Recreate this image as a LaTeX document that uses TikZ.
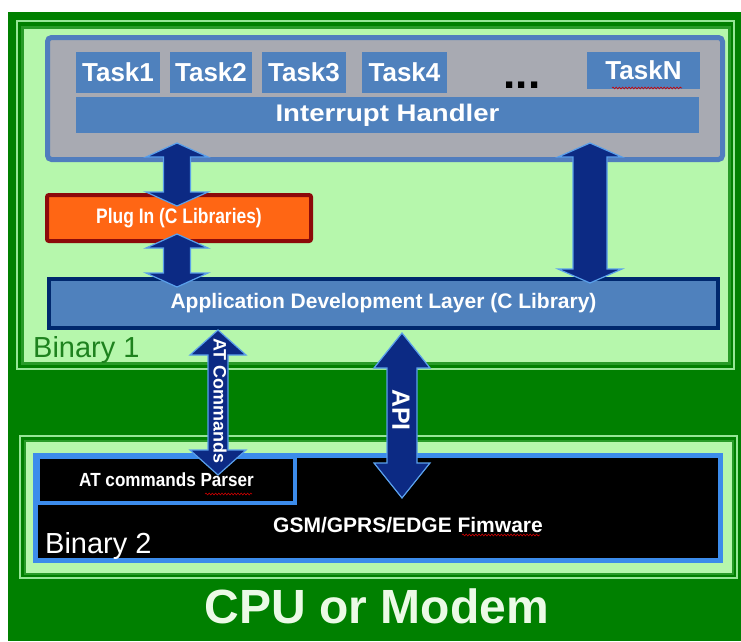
\documentclass[tikz,border=0pt]{standalone}
\usepackage{fontspec}
\setmainfont{Liberation Sans}
\usetikzlibrary{calc,decorations.pathmorphing}
\definecolor{dkgreen}{RGB}{0,128,0}
\definecolor{midgreen}{RGB}{40,155,40}
\definecolor{palegreen}{RGB}{150,230,150}
\definecolor{ltgreen}{RGB}{182,247,172}
\definecolor{graybox}{RGB}{168,170,178}
\definecolor{grayedge}{RGB}{80,125,190}
\definecolor{taskblue}{RGB}{79,129,189}
\definecolor{adlnavy}{RGB}{0,40,110}
\definecolor{plugorange}{RGB}{255,102,20}
\definecolor{plugred}{RGB}{140,10,10}
\definecolor{arrnavy}{RGB}{12,42,132}
\definecolor{arredge}{RGB}{90,160,235}
\definecolor{fwblue}{RGB}{60,140,235}
\definecolor{cputext}{RGB}{235,250,230}
\definecolor{bintext}{RGB}{30,130,30}
\newcommand\fsz[1]{\fontsize{#1}{#1}\selectfont}
\newcommand\blockarrow[5]{%
  \draw[barrow] (#1) -- ($(#1)+(#4,#5)$) -- ($(#1)+(#3,#5)$) -- ($(#2)+(#3,-#5)$)
    -- ($(#2)+(#4,-#5)$) -- (#2) -- ($(#2)+(-#4,-#5)$) -- ($(#2)+(-#3,-#5)$)
    -- ($(#1)+(-#3,#5)$) -- ($(#1)+(-#4,#5)$) -- cycle;}
\tikzset{
  taskbox/.style={fill=taskblue,text=white,inner sep=0pt,font=\fsz{26}\bfseries},
  barrow/.style={fill=arrnavy,draw=arredge,line width=1.2pt,line join=miter},
  arrlabel/.style={text=white,inner sep=0pt,rotate=-90,font=\bfseries},
  squig/.style={draw=red!80!black,line width=0.6pt,decorate,decoration={snake,amplitude=0.9pt,segment length=3.2pt}}
}
\begin{document}
\begin{tikzpicture}[x=1pt,y=-1pt]
\useasboundingbox (0,0) rectangle (741,641);
\fill[white] (0,0) rectangle (741,641);
% outer CPU area
\fill[dkgreen] (8,12) rectangle (741,641);
% Binary 1 area
\draw[palegreen,line width=1.5pt] (17,21) rectangle (734,369);
\node (bin1) [draw=midgreen,line width=3pt,fill=ltgreen,minimum width=707pt,minimum height=336pt,inner sep=0pt] at (376,195.5) {};
% gray task area
\node (tasks) [draw=grayedge,line width=5pt,fill=graybox,rounded corners=4pt,minimum width=675pt,minimum height=122pt,inner sep=0pt] at (385,98.5) {};
\node (t1) [taskbox,minimum width=84pt,minimum height=41pt] at (118,72.5) {Task1};
\node (t2) [taskbox,minimum width=82pt,minimum height=41pt] at (211,72.5) {Task2};
\node (t3) [taskbox,minimum width=84pt,minimum height=41pt] at (304,72.5) {Task3};
\node (t4) [taskbox,minimum width=85pt,minimum height=41pt] at (404.5,72.5) {Task4};
\node (dots) [anchor=base,inner sep=0pt,font=\fsz{44}\bfseries] at (522,88) {...};
\node (tN) [taskbox,minimum width=113pt,minimum height=37pt] at (643.5,70.5) {TaskN};
\node (ih) [fill=taskblue,text=white,inner sep=0pt,minimum width=623pt,minimum height=36pt,font=\fsz{24}\bfseries] at (387.5,115) {\scalebox{1.15}[1]{Interrupt Handler}};
% plug-in
\node (plug) [draw=plugred,line width=4pt,fill=plugorange,rounded corners=2pt,minimum width=264pt,minimum height=46pt,inner sep=0pt,text=white,font=\fsz{21}\bfseries] at (179,218) {\scalebox{0.83}[1]{Plug In (C Libraries)}};
% application development layer
\node (adl) [draw=adlnavy,line width=4pt,fill=taskblue,minimum width=669pt,minimum height=49pt,inner sep=0pt,text=white,font=\fsz{21}\bfseries] at (383.5,303.5) {Application Development Layer (C Library)};
\node (b1lbl) [anchor=base west,inner sep=0pt,text=bintext,font=\fsz{29}] at (33,357) {Binary 1};
% Binary 2 area
\draw[palegreen,line width=1.5pt] (20,436) rectangle (737,578);
\node (bin2) [draw=midgreen,line width=2pt,fill=ltgreen,minimum width=708pt,minimum height=133pt,inner sep=0pt] at (378.5,507.5) {};
\node (fw) [draw=fwblue,line width=5pt,fill=black,minimum width=685pt,minimum height=105pt,inner sep=0pt] at (378,508) {};
\node (parser) [draw=fwblue,line width=4pt,fill=black,minimum width=257pt,minimum height=46pt,inner sep=0pt,text=white,font=\fsz{19}\bfseries] at (166.5,480) {\scalebox{0.9}[1]{AT commands Parser}};
\node (fwlbl) [inner sep=0pt,text=white,font=\fsz{21}\bfseries] at (408,525) {GSM/GPRS/EDGE Fimware};
\node (b2lbl) [anchor=base west,inner sep=0pt,text=white,font=\fsz{29}] at (45,553) {Binary 2};
% squiggles
\draw[squig] (612,88) -- (682,88);
\draw[squig] (205,494) -- (252,494);
\draw[squig] (462,535) -- (540,535);
% arrows
\coordinate (a1t) at (177,143); \coordinate (a1b) at (177,206);
\coordinate (a2t) at (177,234); \coordinate (a2b) at (177,287);
\coordinate (a3t) at (590,143); \coordinate (a3b) at (590,283);
\coordinate (a4t) at (218,330); \coordinate (a4b) at (218,475);
\coordinate (a5t) at (402,333); \coordinate (a5b) at (402,498);
\blockarrow{a1t}{a1b}{13.5}{31}{14}
\blockarrow{a2t}{a2b}{13.5}{31}{14}
\blockarrow{a3t}{a3b}{17}{32}{14}
\blockarrow{a4t}{a4b}{10}{28}{25}
\blockarrow{a5t}{a5b}{15}{28}{35}
\node (atlbl) [arrlabel,font=\fsz{18}\bfseries] at (220,401) {AT Commands};
\node (apilbl) [arrlabel,font=\fsz{25}\bfseries] at (401,410) {API};
% CPU label
\node (cpu) [anchor=base,inner sep=0pt,text=cputext,font=\fsz{48}\bfseries] at (377,623) {CPU or Modem};
\end{tikzpicture}
\end{document}
